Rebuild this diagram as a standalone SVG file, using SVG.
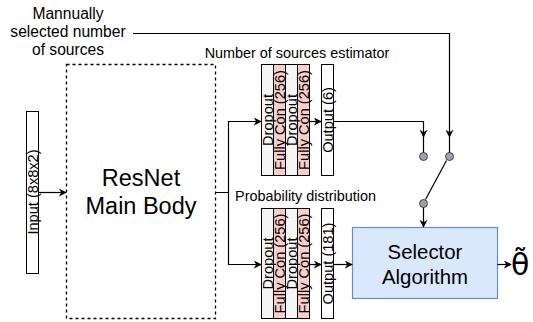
<svg xmlns="http://www.w3.org/2000/svg" width="533" height="322" viewBox="0 0 533 322">
<style>
text{font-family:"Liberation Sans",Arial,sans-serif;fill:#000}
.lbl{font-size:14.4px}
.col{font-size:14.6px;text-anchor:middle}
.drop{fill:#f5f5f5;stroke:#000;stroke-width:1}
.fc{fill:#f8cecc;stroke:#000;stroke-width:1}
.out{fill:#fff;stroke:#000;stroke-width:1}
.ln{fill:none;stroke:#000;stroke-width:1.2}
.arr{marker-end:url(#ah)}
.dot{fill:#a19fab;stroke:#444;stroke-width:1}
</style>
<defs>
<marker id="ah" viewBox="0 0 10 10" refX="9" refY="5" markerWidth="8" markerHeight="8" markerUnits="userSpaceOnUse" orient="auto">
<path d="M0,0 L10,5 L0,10 L3,5 z" fill="#000"/>
</marker>
</defs>

<g id="manual-label">
<text class="lbl" style="font-size:15.6px" x="68" y="19" text-anchor="middle">Mannually</text>
<text class="lbl" style="font-size:15.6px" x="68" y="37" text-anchor="middle">selected number</text>
<text class="lbl" style="font-size:15.6px" x="68" y="55" text-anchor="middle">of sources</text>
</g>

<g id="input">
<rect class="out" x="26.5" y="111.5" width="12" height="162"/>
<text class="col" transform="translate(32.5,192) rotate(-90)" dy="0.36em">Input (8x8x2)</text>
</g>

<g id="resnet">
<rect x="66.5" y="64.5" width="149" height="254" fill="none" stroke="#000" stroke-width="1.3" stroke-dasharray="3,3"/>
<text x="141" y="186" text-anchor="middle" style="font-size:23.5px">ResNet</text>
<text x="141" y="214" text-anchor="middle" style="font-size:23.5px">Main Body</text>
</g>

<g id="estimator">
<text class="lbl" x="297" y="58" text-anchor="middle">Number of sources estimator</text>
<rect class="drop" x="261.5" y="64.5" width="12" height="111"/>
<rect class="fc" x="273.5" y="64.5" width="12" height="111"/>
<rect class="drop" x="285.5" y="64.5" width="12" height="111"/>
<rect class="fc" x="297.5" y="64.5" width="12" height="111"/>
<text class="col" transform="translate(267.5,120) rotate(-90)" dy="0.36em">Dropout</text>
<text class="col" transform="translate(279.5,120) rotate(-90)" dy="0.36em">Fully Con (256)</text>
<text class="col" transform="translate(291.5,120) rotate(-90)" dy="0.36em">Dropout</text>
<text class="col" transform="translate(303.5,120) rotate(-90)" dy="0.36em">Fully Con (256)</text>
</g>
<g id="output6">
<rect class="out" x="321.5" y="64.5" width="12" height="111"/>
<text class="col" transform="translate(327.5,120) rotate(-90)" dy="0.36em">Output (6)</text>
</g>

<g id="probability">
<text class="lbl" x="305.5" y="201" text-anchor="middle">Probability distribution</text>
<rect class="drop" x="261.5" y="208.5" width="12" height="110"/>
<rect class="fc" x="273.5" y="208.5" width="12" height="110"/>
<rect class="drop" x="285.5" y="208.5" width="12" height="110"/>
<rect class="fc" x="297.5" y="208.5" width="12" height="110"/>
<text class="col" transform="translate(267.5,263.5) rotate(-90)" dy="0.36em">Dropout</text>
<text class="col" transform="translate(279.5,263.5) rotate(-90)" dy="0.36em">Fully Con (256)</text>
<text class="col" transform="translate(291.5,263.5) rotate(-90)" dy="0.36em">Dropout</text>
<text class="col" transform="translate(303.5,263.5) rotate(-90)" dy="0.36em">Fully Con (256)</text>
</g>
<g id="output181">
<rect class="out" x="321.5" y="208.5" width="12" height="110"/>
<text class="col" transform="translate(327.5,263.5) rotate(-90)" dy="0.36em">Output (181)</text>
</g>

<g id="selector">
<rect x="352.5" y="227.5" width="145" height="71" fill="#dae8fc" stroke="#6c8ebf" stroke-width="1.2"/>
<text x="425" y="259" text-anchor="middle" style="font-size:20.4px">Selector</text>
<text x="425" y="284" text-anchor="middle" style="font-size:20.4px">Algorithm</text>
</g>

<g id="theta">
<text x="511" y="275" style="font-family:'DejaVu Sans',sans-serif;font-size:30px">θ̃</text>
</g>

<g id="switch">
<circle class="dot" cx="423.5" cy="156.5" r="4"/>
<circle class="dot" cx="449.5" cy="156.5" r="4"/>
<circle class="dot" cx="423.5" cy="203.5" r="4"/>
</g>

<g id="connectors">
<path class="ln arr" d="M38.5,192.5 H66"/>
<path class="ln arr" d="M216,192.5 H228.5 V121.5 H261"/>
<path class="ln arr" d="M228.5,192.5 V264.5 H261"/>
<path class="ln arr" d="M309.5,121.5 H321"/>
<path class="ln arr" d="M309.5,264.5 H321"/>
<path class="ln arr" d="M333.5,121.5 H423.5 V137"/>
<path class="ln" d="M423.5,136 V152.5"/>
<path class="ln arr" d="M133,33.5 H449.5 V137"/>
<path class="ln" d="M449.5,136 V152.5"/>
<path class="ln" d="M446.5,160.5 L425.5,199.5"/>
<path class="ln arr" d="M423.5,207.5 V227"/>
<path class="ln arr" d="M333.5,264.5 H352"/>
<path class="ln arr" d="M497.5,264.5 H511"/>
</g>
</svg>
